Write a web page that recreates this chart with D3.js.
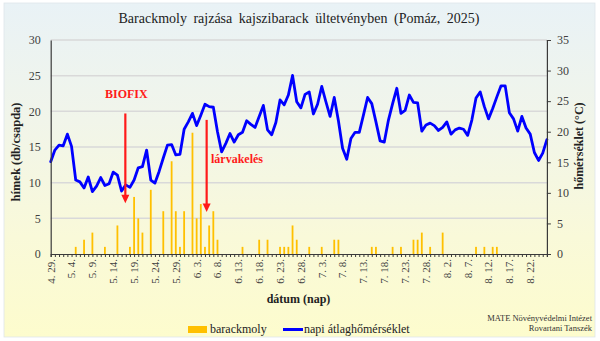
<!DOCTYPE html>
<html><head><meta charset="utf-8">
<script src="https://cdn.jsdelivr.net/npm/d3@7"></script>
<style>
html,body{margin:0;padding:0;background:#fff;}
svg{display:block;}
text{font-family:"Liberation Serif","Times New Roman",serif;}
</style></head>
<body>
<svg id="c" width="600" height="341"></svg>
<script>
// ---------- data ----------
const startDate = new Date(2025, 3, 29);   // 4. 29.
const endDate   = new Date(2025, 7, 27);   // exclusive -> last category 8. 26.
const fmt = d3.timeFormat("%-m. %-d.");
const categories = d3.timeDay.range(startDate, endDate).map(fmt);

const tickLabels = ["4. 29.","5. 4.","5. 9.","5. 14.","5. 19.","5. 24.","5. 29.","6. 3.","6. 8.","6. 13.","6. 18.","6. 23.","6. 28.","7. 3.","7. 8.","7. 13.","7. 18.","7. 23.","7. 28.","8. 2.","8. 7.","8. 12.","8. 17.","8. 22."];

const barackmoly = [
 0,0,0,0,0,0,1,0,2,0,
 3,0,0,1,0,0,4,0,0,1,
 8,5,3,0,9,0,0,6,0,13,
 6,1,6,0,17,5,7,1,4,6,
 2,0,0,0,0,0,1,0,0,0,
 2,0,2,0,0,1,1,1,4,2,
 0,0,1,0,0,1,0,0,2,2,
 0,0,0,0,0,0,0,1,1,0,
 0,0,1,0,1,0,0,2,2,3,
 0,1,0,0,3,0,0,0,0,0,
 0,0,1,0,1,0,1,1,0,0,
 0,0,0,0,0,0,0,0,0,0];

const homerseklet = [
 15.1,17.0,17.8,17.7,19.6,17.6,12.1,11.8,10.8,12.6,
 10.2,11.1,12.5,11.2,11.5,13.4,12.9,10.3,11.3,10.9,
 12.1,14.1,14.3,17.0,12.1,11.6,13.5,15.7,17.8,17.9,
 16.2,16.3,20.4,21.6,23.0,21.0,22.7,24.5,24.1,24.0,
 20.0,16.7,18.1,19.7,18.3,19.5,19.9,21.8,21.2,20.7,
 22.5,24.3,20.3,19.5,21.5,25.2,24.4,26.0,29.2,24.9,
 23.9,26.1,26.5,22.9,24.5,27.4,24.9,22.5,25.6,21.8,
 17.3,15.5,18.9,19.9,19.9,22.7,25.6,24.6,21.6,18.5,
 18.3,21.9,24.6,27.1,23.0,23.5,26.0,24.8,24.7,20.1,
 21.1,21.4,21.0,20.2,20.7,21.6,19.6,20.3,20.6,20.4,
 19.4,21.9,25.5,26.5,24.1,22.1,23.8,25.7,27.5,27.5,
 23.1,22.1,20.1,22.5,20.6,19.6,16.6,15.3,16.5,18.7];

const leftTicks  = [0,5,10,15,20,25,30];
const rightTicks = [0,5,10,15,20,25,30,35];

// annotations: label, category index position, arrow top value, arrow tip value (left axis units)
const annotations = [
  {label:"BIOFIX",     pos:17.9, top:19.7, tip:7.1},
  {label:"lárvakelés", pos:37.4, top:18.8, tip:5.9}
];

const title = "Barackmoly rajzása kajszibarack ültetvényben (Pomáz, 2025)";

// ---------- layout ----------
const svg = d3.select("#c");
const X0 = 50.7, X1 = 546.9, Y0 = 254, Y1 = 40;

const defs = svg.append("defs");
const grad = defs.append("linearGradient").attr("id","bg").attr("x1",0).attr("y1",0).attr("x2",0).attr("y2",1);
[["0%","#e9f2f6"],["35%","#f1f5ea"],["70%","#f9f9d9"],["100%","#fdfccd"]].forEach(s=>grad.append("stop").attr("offset",s[0]).attr("stop-color",s[1]));

svg.append("rect").attr("x",4).attr("y",3).attr("width",591).attr("height",334)
  .attr("fill","url(#bg)").attr("stroke","#dfe6ea").attr("stroke-width",0.8);

const x = d3.scalePoint().domain(categories).range([X0, X1]);
const xi = i => X0 + (X1 - X0) * i / (categories.length - 1);
const yL = d3.scaleLinear().domain([0,30]).range([Y0,Y1]);
const yR = d3.scaleLinear().domain([0,35]).range([Y0,Y1]);

// gridlines
svg.append("g").selectAll("line").data(leftTicks.filter(d=>d>0)).join("line")
  .attr("x1",X0).attr("x2",X1).attr("y1",d=>yL(d)).attr("y2",d=>yL(d))
  .attr("stroke","#d9d9d9").attr("stroke-width",1.5);

// bars
const bw = 1.8;
svg.append("g").selectAll("rect").data(categories.map((c,i)=>({c,v:barackmoly[i]})).filter(d=>d.v>0)).join("rect")
  .attr("x",d=>x(d.c)-bw/2).attr("width",bw)
  .attr("y",d=>yL(d.v)).attr("height",d=>yL(0)-yL(d.v))
  .attr("fill","#ffc000");

// temperature line
const line = d3.line().x((d,i)=>x(categories[i])).y(d=>yR(d));
svg.append("path").datum(homerseklet).attr("d",line)
  .attr("fill","none").attr("stroke","#0000ff").attr("stroke-width",2.8)
  .attr("stroke-linejoin","round").attr("stroke-linecap","round");

// axes
const axisColor = "#3a3a3a";
const gL = svg.append("g").attr("transform",`translate(${X0},0)`)
  .call(d3.axisLeft(yL).tickValues(leftTicks).tickSize(0).tickPadding(10));
const gR = svg.append("g").attr("transform",`translate(${X1},0)`)
  .call(d3.axisRight(yR).tickValues(rightTicks).tickSize(4).tickPadding(6));
const gX = svg.append("g").attr("transform",`translate(0,${Y0})`)
  .call(d3.axisBottom(x).tickSize(3).tickFormat(""));
[gL,gR,gX].forEach(g=>{
  g.select(".domain").attr("stroke",axisColor).attr("stroke-width",1.2);
  g.selectAll(".tick line").attr("stroke",axisColor);
  g.selectAll("text").attr("font-family","Liberation Serif").attr("font-size",12).attr("fill","#404040");
});

// x tick labels (rotated)
svg.append("g").selectAll("text").data(tickLabels).join("text")
  .attr("transform",d=>`translate(${x(d)},259) rotate(-90)`)
  .attr("text-anchor","end").attr("dy","0.35em")
  .attr("font-size",11).attr("fill","#404040").text(d=>d);

// annotations
const red = "#ff1a1a";
annotations.forEach(a=>{
  const ax = xi(a.pos);
  svg.append("line").attr("x1",ax).attr("x2",ax).attr("y1",yL(a.top)).attr("y2",yL(a.tip)-7)
    .attr("stroke",red).attr("stroke-width",2.2);
  svg.append("path").attr("d",`M${ax-4},${yL(a.tip)-8.5} L${ax+4},${yL(a.tip)-8.5} L${ax},${yL(a.tip)} Z`).attr("fill",red);
});
svg.append("text").attr("x",xi(annotations[0].pos)+1).attr("y",98).attr("text-anchor","middle")
  .attr("font-size",12).attr("font-weight","bold").attr("fill",red).text(annotations[0].label);
svg.append("text").attr("x",211).attr("y",163).attr("text-anchor","start")
  .attr("font-size",12).attr("font-weight","bold").attr("fill",red).text(annotations[1].label);

// titles
svg.append("text").attr("x",299).attr("y",22.5).attr("text-anchor","middle")
  .attr("font-size",14).attr("fill","#222").attr("word-spacing","3px").text(title);
svg.append("text").attr("transform","translate(20,152) rotate(-90)").attr("text-anchor","middle")
  .attr("font-size",12.5).attr("font-weight","bold").attr("fill","#222").text("hímek (db/csapda)");
svg.append("text").attr("transform","translate(583,146) rotate(-90)").attr("text-anchor","middle")
  .attr("font-size",12).attr("font-weight","bold").attr("fill","#222").text("hőmérséklet (°C)");
svg.append("text").attr("x",298.5).attr("y",303).attr("text-anchor","middle")
  .attr("font-size",12).attr("font-weight","bold").attr("fill","#222").text("dátum (nap)");

// legend
svg.append("rect").attr("x",188).attr("y",326).attr("width",19).attr("height",7).attr("fill","#ffc000");
svg.append("text").attr("x",210).attr("y",333).attr("font-size",12).attr("fill","#222").text("barackmoly");
svg.append("line").attr("x1",283).attr("x2",303).attr("y1",329.5).attr("y2",329.5).attr("stroke","#0000ff").attr("stroke-width",3);
svg.append("text").attr("x",304).attr("y",333).attr("font-size",12).attr("fill","#222").text("napi átlaghőmérséklet");

// credit
svg.append("text").attr("x",592).attr("y",320.5).attr("text-anchor","end").attr("font-size",8.5).attr("fill","#333").text("MATE Növényvédelmi Intézet");
svg.append("text").attr("x",592).attr("y",331).attr("text-anchor","end").attr("font-size",8.5).attr("fill","#333").text("Rovartani Tanszék");
</script>
</body></html>
